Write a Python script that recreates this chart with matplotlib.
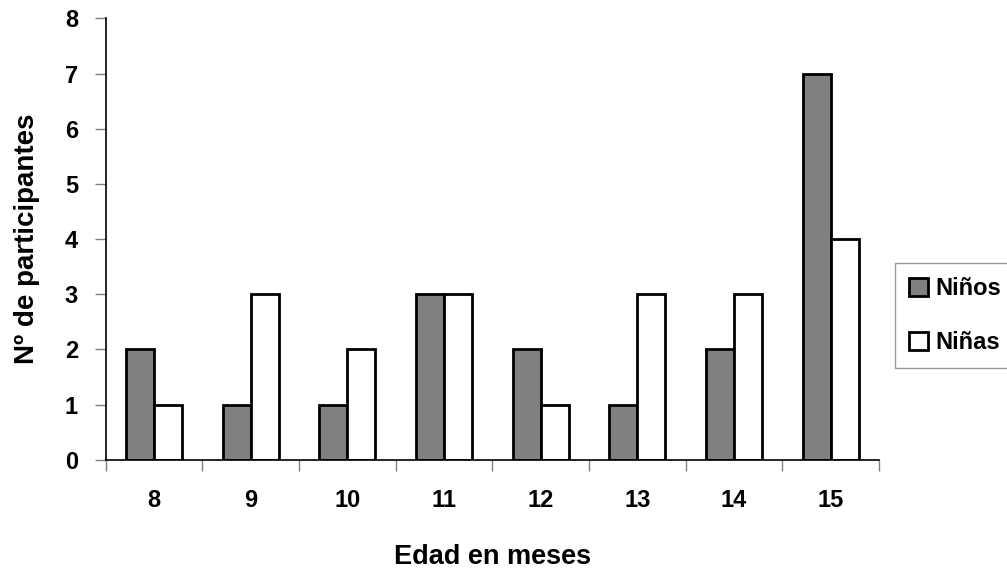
import matplotlib.pyplot as plt
import numpy as np

# data
edades = ["8", "9", "10", "11", "12", "13", "14", "15"]
ninos = [2, 1, 1, 3, 2, 1, 2, 7]
ninas = [1, 3, 2, 3, 1, 3, 3, 4]

font = ["Liberation Sans", "DejaVu Sans"]

fig = plt.figure(figsize=(10.07, 5.72), dpi=100)
ax = fig.add_axes([0.105, 0.196, 0.768, 0.772])

x = np.arange(len(edades))
w = 0.29
ax.bar(x - w / 2, ninos, w, color="#808080", edgecolor="black", linewidth=2,
	label="Niños")
ax.bar(x + w / 2, ninas, w, color="white", edgecolor="black", linewidth=2,
	label="Niñas")

ax.set_xlim(-0.5, len(edades) - 0.5)
ax.set_ylim(0, 8)
ax.set_yticks(range(0, 9))

# ticks between the groups, labels at the centres
ax.set_xticks(np.arange(-0.5, len(edades), 1.0))
ax.set_xticklabels([])
ax.set_xticks(x, minor=True)
ax.set_xticklabels(edades, minor=True, fontsize=17, fontweight="bold",
	family=font)
ax.tick_params(axis="x", which="minor", length=0, pad=21)
ax.tick_params(axis="x", which="major", length=8, width=1, color="#808080",
	direction="out")
ax.tick_params(axis="y", length=8, width=1, color="#808080", direction="out",
	pad=12)
for lab in ax.get_yticklabels():
	lab.set_fontsize(17)
	lab.set_fontweight("bold")
	lab.set_family(font)

ax.spines["top"].set_visible(False)
ax.spines["right"].set_visible(False)
ax.spines["left"].set_linewidth(1.2)
ax.spines["bottom"].set_linewidth(1.2)

ax.set_xlabel("Edad en meses", fontsize=19.5, fontweight="bold",
	family=font, labelpad=23)
ax.set_ylabel("Nº de participantes", fontsize=20, fontweight="bold",
	family=font, labelpad=18)

leg = fig.legend(loc="upper left", bbox_to_anchor=(0.889, 0.54),
	borderaxespad=0, frameon=True, fancybox=False, edgecolor="#808080",
	prop={"family": font, "weight": "bold", "size": 17},
	handlelength=0.8, handleheight=0.8, handletextpad=0.3,
	labelspacing=1.3, borderpad=0.6)
leg.get_frame().set_linewidth(1)

fig.savefig("out.png", dpi=100)
